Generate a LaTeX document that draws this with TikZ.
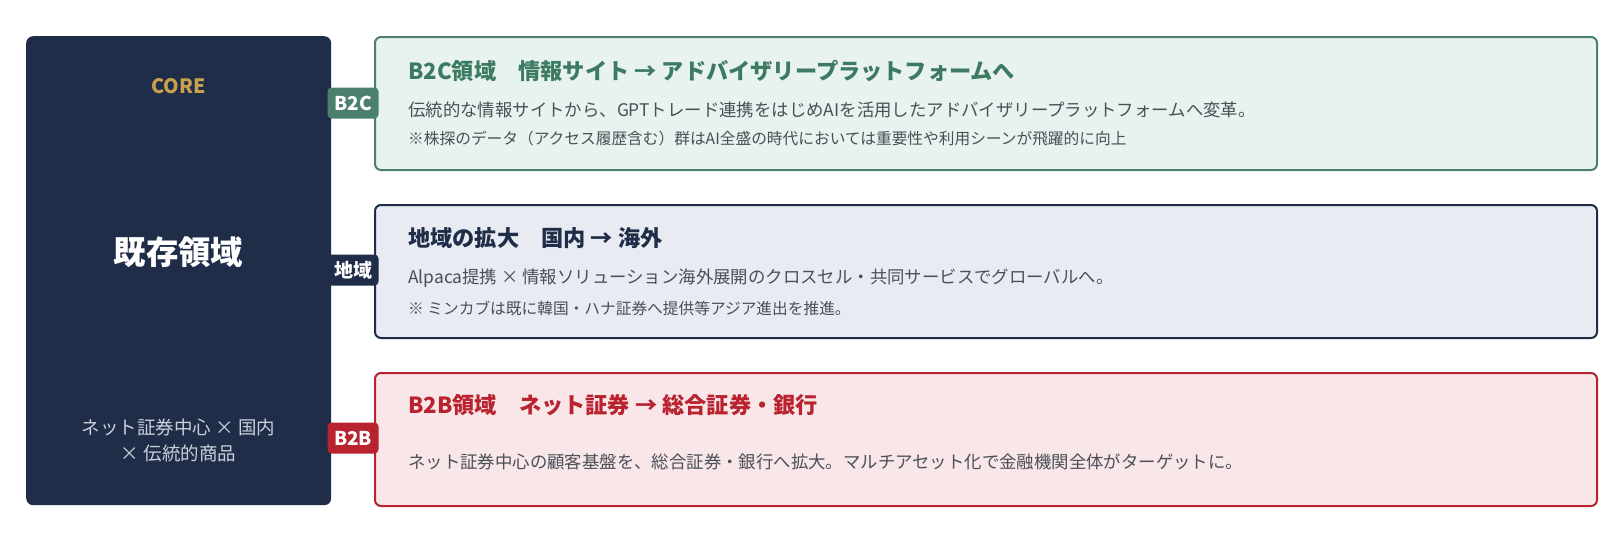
\documentclass[tikz,border=0pt]{standalone}
\usepackage{fontspec}
\setmainfont{Noto Sans CJK JP}
\definecolor{navy}{HTML}{1F2D48}
\definecolor{gold}{HTML}{C9A04E}
\definecolor{coresub}{HTML}{C9D0DC}
\definecolor{grn}{HTML}{4A806C}
\definecolor{grntitle}{HTML}{3D7A62}
\definecolor{grnfill}{HTML}{E8F2EE}
\definecolor{bluefill}{HTML}{E8EBF1}
\definecolor{redc}{HTML}{B8232F}
\definecolor{redfill}{HTML}{F8E6E8}
\definecolor{bodytxt}{HTML}{4A4F58}
\begin{document}
\begin{tikzpicture}[x=1pt,y=-1pt,
  card/.style={draw, line width=2pt, rounded corners=6pt, minimum width=1222pt, minimum height=133pt, anchor=north west, inner sep=0pt},
  badge/.style={rounded corners=4pt, minimum width=51pt, minimum height=31pt, inner sep=0pt, text=white, font=\fontsize{19}{19}\selectfont\bfseries},
  ttl/.style={anchor=west, inner sep=0pt, font=\fontsize{22.2}{22}\selectfont\bfseries},
  bodyt/.style={anchor=west, inner sep=0pt, text=bodytxt, font=\fontsize{17.4}{17}\selectfont},
  notet/.style={anchor=west, inner sep=0pt, text=bodytxt, font=\fontsize{15.7}{15}\selectfont}]
\useasboundingbox[fill=white] (0,0) rectangle (1622,539);
% core
\node (core) [fill=navy, rounded corners=7pt, minimum width=305pt, minimum height=469pt, anchor=north west, inner sep=0pt] at (26,36) {};
\node (coretag) [text=gold, font=\fontsize{19.8}{19}\selectfont\bfseries] at (178.5,86) {CORE};
\node (coremain) [text=white, font=\fontsize{32.4}{32}\selectfont\bfseries] at (178.5,252) {既存領域};
\node (coresub) [text=coresub, font=\fontsize{18.5}{26}\selectfont, align=center] at (178.5,440) {ネット証券中心 × 国内\\× 伝統的商品};
% cards
\node (b2c) [card, draw=grn, fill=grnfill] at (374,36) {};
\node (reg) [card, draw=navy, fill=bluefill] at (374,204) {};
\node (b2b) [card, draw=redc, fill=redfill] at (374,372) {};
% badges
\node (bb2c) [badge, fill=grn] at (353,103) {B2C};
\node (breg) [badge, fill=navy] at (353,270) {地域};
\node (bb2b) [badge, fill=redc] at (353,438) {B2B};
% texts
\node (t1) [ttl, text=grntitle] at (408,71) {B2C領域　情報サイト → アドバイザリープラットフォームへ};
\node (d1) [bodyt] at (408,110) {伝統的な情報サイトから、GPTトレード連携をはじめAIを活用したアドバイザリープラットフォームへ変革。};
\node (n1) [notet] at (408,139) {※株探のデータ（アクセス履歴含む）群はAI全盛の時代においては重要性や利用シーンが飛躍的に向上};
\node (t2) [ttl, text=navy] at (408,238) {地域の拡大　国内 → 海外};
\node (d2) [bodyt] at (408,278) {Alpaca提携 × 情報ソリューション海外展開のクロスセル・共同サービスでグローバルへ。};
\node (n2) [notet] at (408,308) {※ ミンカブは既に韓国・ハナ証券へ提供等アジア進出を推進。};
\node (t3) [ttl, text=redc] at (408,405) {B2B領域　ネット証券 → 総合証券・銀行};
\node (d3) [bodyt] at (408,462) {ネット証券中心の顧客基盤を、総合証券・銀行へ拡大。マルチアセット化で金融機関全体がターゲットに。};
\end{tikzpicture}
\end{document}
